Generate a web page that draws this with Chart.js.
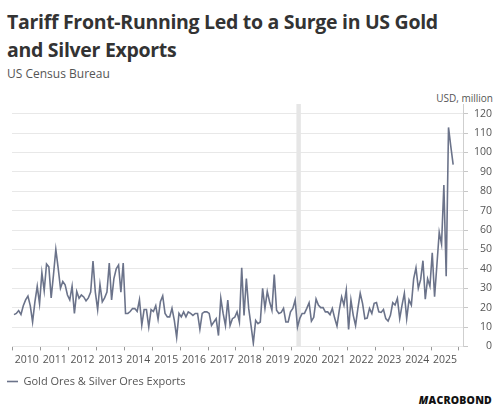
<!DOCTYPE html>
<html>
<head>
<meta charset="utf-8">
<script src="https://cdn.jsdelivr.net/npm/chart.js@4.4.0/dist/chart.umd.min.js"></script>
<style>
  html, body { margin: 0; padding: 0; background: #fff; }
  body { width: 498px; height: 414px; position: relative; overflow: hidden; font-family: "Open Sans", sans-serif; }
  #title { position: absolute; left: 7px; top: 8px; font-size: 19.5px; font-weight: 700; line-height: 28px; color: #333; letter-spacing: -0.3px; }
  #source { position: absolute; left: 7px; top: 66px; font-size: 12px; line-height: 16px; color: #555; }
  #unit { position: absolute; right: 5px; top: 91px; font-size: 10px; line-height: 14px; color: #555; }
  #logo { position: absolute; right: 6px; top: 393px; font-size: 10.5px; font-weight: 800; line-height: 14px; color: #111; letter-spacing: 0.2px; }
  #wrap { position: absolute; left: 0; top: 0; width: 498px; height: 397px; }
</style>
</head>
<body>
<div id="title">Tariff Front-Running Led to a Surge in US Gold<br>and Silver Exports</div>
<div id="source">US Census Bureau</div>
<div id="unit">USD, million</div>
<div id="logo"><i>M</i>ACROBOND</div>
<div id="wrap"><canvas id="chart"></canvas></div>
<script>
// monthly series, starting Jan 2010
var startYear = 2010;
var seriesName = "Gold Ores & Silver Ores Exports";
var yearLabels = ['2010','2011','2012','2013','2014','2015','2016','2017','2018','2019','2020','2021','2022','2023','2024','2025'];
var yTicks = [0,10,20,30,40,50,60,70,80,90,100,110,120];
var recession = [2020.17, 2020.33];

var exportsUsd = [
  16.4, 17, 18.5, 16.5, 21, 24, 26, 21, 12.6, 23, 31, 22,
  38, 28.7, 42.5, 41, 25, 37, 50, 40.5, 30, 33.5, 31.8, 26.5,
  24, 31, 17, 28.3, 24.8, 26.5, 25.5, 23.5, 25, 28, 44, 28,
  19, 32, 23, 25, 28, 43, 24, 35, 40, 42, 28, 43,
  17, 17, 18, 19.5, 19.5, 18, 24, 11, 19, 19, 10, 19,
  18, 21, 14, 23, 26, 17, 15.2, 15.2, 19.6, 13.4, 4.7, 17,
  15.2, 17.8, 15.2, 17.8, 17, 16, 17, 17, 8.8, 17, 17.8, 17.8,
  17, 10.8, 12.6, 14.3, 5.6, 24.8, 17, 10.8, 23.9, 10.8, 14.3, 15,
  17.8, 12.6, 40.5, 16, 35, 19.6, 10.8, 1.7, 13.4, 11.7, 12.6, 30,
  19.6, 28.3, 23, 18.7, 37, 18.7, 17, 17.5, 19.6, 12.6, 12.6, 17.8,
  19.6, 23.9, 10, 14.5, 17, 17, 19.6, 22.5, 13, 15, 24.4, 21.3,
  20, 20, 17.8, 17.8, 16.4, 19.6, 14.6, 10.5, 18.7, 25.6, 21.3, 29.1,
  8.8, 23.9, 16, 10.8, 19.6, 27.4, 22.2, 14.3, 14.6, 19.6, 17, 22.2,
  22.6, 17.8, 17.5, 19, 14.3, 13.1, 16, 22.5, 21.3, 24.8, 14.3, 21.3,
  27.4, 14.3, 24, 21.3, 34.8, 40.5, 30, 34.4, 44.2, 24.4, 34.8, 31,
  48.3, 25.6, 42, 58.8, 52.7, 83.2, 36.2, 112.9, 103, 93.7
];

var points = exportsUsd.map(function(v, i) {
  return { x: startYear + (i + 0.5) / 12, y: v };
});

var bandPlugin = {
  id: 'band',
  beforeDatasetsDraw: function(chart) {
    var ctx = chart.ctx, area = chart.chartArea, xs = chart.scales.x;
    var x1 = xs.getPixelForValue(recession[0]);
    var x2 = xs.getPixelForValue(recession[1]);
    ctx.save();
    ctx.fillStyle = '#e6e6e6';
    ctx.fillRect(x1, area.top, x2 - x1, area.bottom - area.top);
    ctx.restore();
  }
};

var tickFont = { family: 'Open Sans', size: 10.5 };

new Chart(document.getElementById('chart'), {
  type: 'line',
  data: {
    datasets: [{
      label: seriesName,
      data: points,
      borderColor: '#6b738a',
      backgroundColor: '#6b738a',
      borderWidth: 1.6,
      pointRadius: 0,
      tension: 0,
      fill: false
    }]
  },
  options: {
    responsive: true,
    maintainAspectRatio: false,
    animation: false,
    layout: { padding: { top: 104, right: 6, left: 0, bottom: 0 } },
    plugins: {
      tooltip: { enabled: false },
      legend: {
        position: 'bottom',
        align: 'start',
        labels: {
          color: '#555',
          font: { family: 'Open Sans', size: 11 },
          usePointStyle: true,
          pointStyle: 'line',
          pointStyleWidth: 11,
          boxHeight: 11,
          padding: 7
        }
      }
    },
    scales: {
      x: {
        type: 'linear',
        min: 2009.97,
        max: 2026.18,
        afterBuildTicks: function(axis) {
          var t = [];
          for (var i = 0; i < yearLabels.length; i++) {
            t.push({ value: startYear + i });
            t.push({ value: startYear + i + 0.5 });
          }
          t.push({ value: startYear + yearLabels.length });
          axis.ticks = t;
        },
        ticks: {
          autoSkip: false,
          maxRotation: 0,
          color: '#555',
          font: tickFont,
          padding: 3,
          callback: function(v) {
            var idx = Math.floor(v) - startYear;
            return (v % 1 !== 0) ? yearLabels[idx] : '';
          }
        },
        grid: {
          drawOnChartArea: false,
          tickLength: 4,
          tickColor: function(c) {
            return (c.tick && c.tick.value % 1 === 0) ? '#999' : 'rgba(0,0,0,0)';
          }
        },
        border: { display: false }
      },
      y: {
        position: 'right',
        min: 0,
        max: 125,
        afterBuildTicks: function(axis) {
          axis.ticks = yTicks.map(function(v) { return { value: v }; });
        },
        ticks: {
          color: '#555',
          font: tickFont,
          padding: 3,
          crossAlign: 'far'
        },
        grid: { color: '#e8e8e8', tickColor: '#c8c8c8', tickLength: 4 },
        border: { display: true, color: '#cfcfcf' }
      },
      yLeft: {
        position: 'left',
        display: true,
        ticks: { display: false },
        grid: { display: false },
        border: { display: false },
        afterFit: function(axis) { axis.width = 12; }
      }
    }
  },
  plugins: [bandPlugin]
});
</script>
</body>
</html>
